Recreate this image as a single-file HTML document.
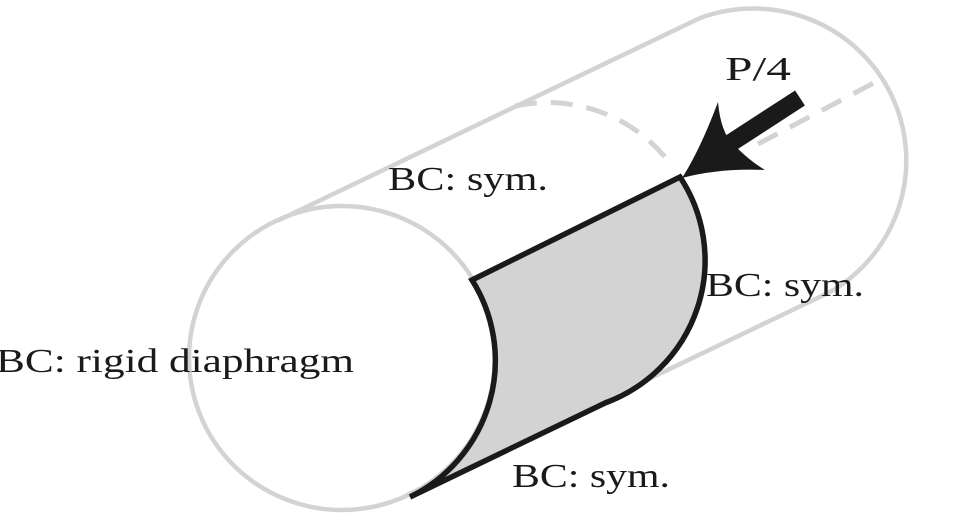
<!DOCTYPE html>
<html><head><meta charset="utf-8"><style>
html,body{margin:0;padding:0;background:#fff;}
svg{display:block;}
text{font-family:"Liberation Serif",serif;font-size:34px;fill:#1a1a1a;}
</style></head><body>
<svg width="965" height="516" viewBox="0 0 965 516" xmlns="http://www.w3.org/2000/svg">
<g fill="none" stroke="#d3d3d3" stroke-width="4.5">
<ellipse cx="342" cy="358" rx="153" ry="152"/>
<path d="M700,18 A153,152 0 0 1 830,292"/>
<line x1="277" y1="221" x2="700" y2="18"/>
<line x1="407" y1="495" x2="830" y2="292"/>
<path d="M515,106 A153,152 0 0 1 672,166" stroke-dasharray="22,14" stroke-width="5"/>
<line x1="758" y1="144" x2="885" y2="77" stroke-dasharray="22,14" stroke-width="5"/>
</g>
<path d="M472,280 L680,177 A153,152 0 0 1 605,403 L410,497 A153,152 0 0 0 472,280 Z" fill="#d3d3d3" stroke="#1a1a1a" stroke-width="5.5" stroke-linejoin="miter"/>
<line x1="800" y1="98" x2="726" y2="146" stroke="#1a1a1a" stroke-width="18"/>
<path d="M682,178 Q700,150 718,102 Q720,125 728,138 Q745,158 765,170 Q720,168 682,178 Z" fill="#1a1a1a"/>
<text x="388" y="190" textLength="160" lengthAdjust="spacingAndGlyphs">BC: sym.</text>
<text x="706" y="296" textLength="158" lengthAdjust="spacingAndGlyphs">BC: sym.</text>
<text x="512" y="487" textLength="158" lengthAdjust="spacingAndGlyphs">BC: sym.</text>
<text x="-4" y="372" textLength="358" lengthAdjust="spacingAndGlyphs">BC: rigid diaphragm</text>
<text x="725" y="80" textLength="66" lengthAdjust="spacingAndGlyphs">P/4</text>
</svg>
</body></html>
